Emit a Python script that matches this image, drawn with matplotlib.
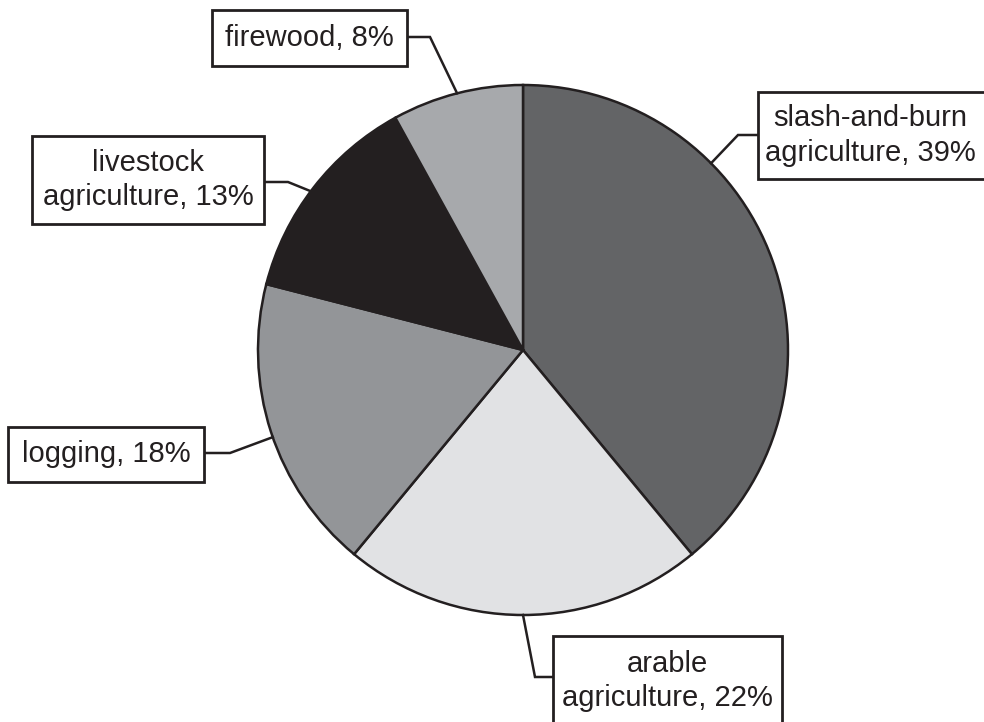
import matplotlib.pyplot as plt
from matplotlib.patches import Rectangle
import numpy as np

# data
labels = ['slash-and-burn\nagriculture, 39%', 'arable\nagriculture, 22%', 'logging, 18%',
          'livestock\nagriculture, 13%', 'firewood, 8%']
values = [39, 22, 18, 13, 8]
colors = ['#636466', '#e1e2e4', '#939598', '#231f20', '#a7a9ac']

W, H = 984, 722
cx, cy, r = 523, 350, 265

# label boxes in pixel coords (left, top, right, bottom), elbow x, elbow y
boxes = [
    (758, 92, 986, 179, 738, 135),
    (553, 636, 782, 730, 535, 677),
    (8, 427, 204, 482, 230, 453),
    (32, 136, 264, 224, 288, 182),
    (212, 10, 407, 66, 430, 37),
]
# anchor angle offsets on the rim (degrees, relative to slice middle)
anchor_shift = [25, 0, 1.2, 1, 0]

def py(y):
    return H - y

fig = plt.figure(figsize=(9.84, 7.22), dpi=100)
ax = fig.add_axes([0, 0, 1, 1])
ax.set_xlim(0, W)
ax.set_ylim(0, H)
ax.set_aspect('equal')
ax.axis('off')

ax.pie(values, colors=colors, startangle=90, counterclock=False,
       center=(cx, py(cy)), radius=r,
       wedgeprops=dict(edgecolor='#231f20', linewidth=1.8))
ax.set_xlim(0, W)
ax.set_ylim(0, H)

total = float(sum(values))
cum = 0
for i, v in enumerate(values):
    mid = 90 - 360 * (cum + v / 2) / total + anchor_shift[i]
    cum += v
    ax_x = cx + r * np.cos(np.radians(mid))
    ax_y = py(cy) + r * np.sin(np.radians(mid))
    l, t, rr, b, ex, ey = boxes[i]
    # attach point on box side
    if ex > rr:
        sx = rr
    else:
        sx = l
    ax.plot([sx, ex, ax_x], [py(ey), py(ey), ax_y], color='#231f20', lw=1.8,
            solid_joinstyle='miter', zorder=3)
    ax.add_patch(Rectangle((l, py(b)), rr - l, b - t, facecolor='white',
                           edgecolor='#231f20', lw=2, zorder=4, clip_on=False))
    if i == 1:
        ty = 681
    else:
        ty = (t + b) / 2
    ax.text((l + rr) / 2 if i != 0 else 870, py(ty), labels[i], ha='center', va='center',
            fontsize=21, family='Liberation Sans', color='#231f20',
            linespacing=1.3, zorder=5)

fig.savefig('out.png', dpi=100)
